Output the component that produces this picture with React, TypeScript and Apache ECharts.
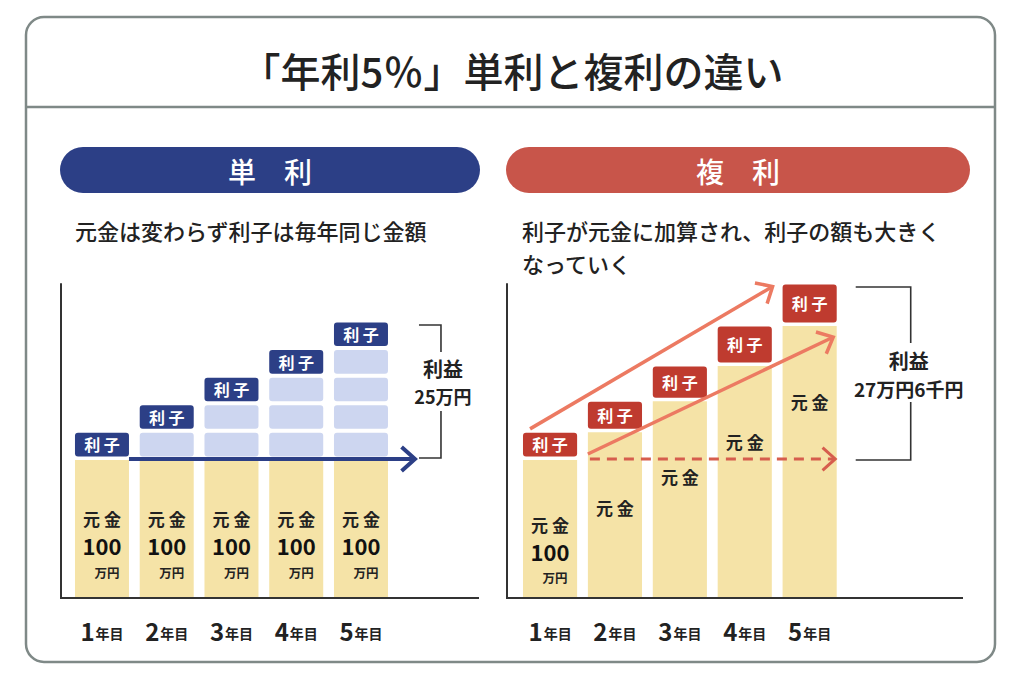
import React, { useEffect, useRef } from 'react';
import * as echarts from 'echarts';

// ---- data ----
const years = ['1年目', '2年目', '3年目', '4年目', '5年目'];
const simplePrincipal = [100, 100, 100, 100, 100];
const simpleInterest = [20, 20, 20, 20, 20]; // drawn interest slice added each year
const compoundPrincipal = [100, 120, 142.5, 168, 197];
const compoundInterest = [20, 22.5, 25.5, 29, 30.5];
const compoundShowAmount = [true, false, false, false, false];
const principalAmount = '100';
const simpleGain = '25万円';
const compoundGain = '27万円6千円';

// ---- styles ----
const FONT = "'Noto Sans CJK JP', 'Noto Sans', sans-serif";
const NAVY = '#2C3F86';
const LIGHT = '#CDD6F0';
const YELLOW = '#F5E3A7';
const RED = '#BF3B2F';
const PILL_RED = '#C8554A';
const SALMON = '#EC7A62';
const DASH = '#D65D4D';
const FRAME = '#7F8987';
const TXT = '#222';

const Y_MAX = 227.5;
const GRID_TOP = 284;
const GRID_H = 314;
const L_GRID = { left: 69.6, width: 323.75 };
const R_GRID = { left: 517.6, width: 324.5 };
const BAR_RATIO = 0.834;

function txt(text: string, x: number, y: number, size: number, weight: any, fill: string) {
  return {
    type: 'text',
    style: {
      text, x, y, fill,
      fontSize: size, fontWeight: weight, fontFamily: FONT, lineHeight: size,
      align: 'center', verticalAlign: 'middle',
    },
  };
}

function principalTexts(cx: number, top: number, offs: number[], withAmount: boolean) {
  const out: any[] = [txt('元 金', cx, top + offs[0], 17, 'bold', TXT)];
  if (withAmount) {
    out.push(txt(principalAmount, cx, top + offs[1], 22, 'bold', '#111'));
    out.push(txt('万円', cx + 5, top + offs[2], 12.5, 'bold', TXT));
  }
  return out;
}

function renderSimple(params: any, api: any) {
  const i = api.value(0);
  const base = api.coord([i, 0]);
  const bw = api.size([1, 0])[0] * BAR_RATIO;
  const x = base[0] - bw / 2;
  const p = simplePrincipal[i];
  const top = api.coord([i, p])[1];
  const children: any[] = [
    { type: 'rect', shape: { x, y: top, width: bw, height: base[1] - top }, style: { fill: YELLOW } },
    ...principalTexts(base[0], top, [58.5, 85.5, 112.5], true),
  ];
  let acc = p;
  for (let k = 0; k <= i; k++) {
    const v = simpleInterest[k];
    const t = api.coord([i, acc + v])[1];
    const b = api.coord([i, acc])[1];
    const isTop = k === i;
    children.push({
      type: 'rect',
      shape: { x, y: t + 0.5, width: bw, height: b - t - 4, r: 3 },
      style: { fill: isTop ? NAVY : LIGHT },
    });
    if (isTop) children.push(txt('利 子', base[0], (t + b - 3.5) / 2, 16, 'bold', '#fff'));
    acc += v;
  }
  return { type: 'group', children };
}

function renderCompound(params: any, api: any) {
  const i = api.value(0);
  const base = api.coord([i, 0]);
  const bw = api.size([1, 0])[0] * BAR_RATIO;
  const x = base[0] - bw / 2;
  const p = compoundPrincipal[i];
  const top = api.coord([i, p])[1];
  const t = api.coord([i, p + compoundInterest[i]])[1];
  const children: any[] = [
    { type: 'rect', shape: { x, y: top, width: bw, height: base[1] - top }, style: { fill: YELLOW } },
    ...principalTexts(base[0], top, compoundShowAmount[i] ? [64.5, 91.5, 118] : [75, 0, 0], compoundShowAmount[i]),
    { type: 'rect', shape: { x, y: t + 0.5, width: bw, height: top - t - 4, r: 3 }, style: { fill: RED } },
    txt('利 子', base[0], (t + top - 3.5) / 2, 16, 'bold', '#fff'),
  ];
  return { type: 'group', children };
}

function arrow(x1: number, y1: number, x2: number, y2: number, color: string, w: number, dashed: boolean, head = 17) {
  const a = Math.atan2(y2 - y1, x2 - x1);
  const ang = Math.PI / 4.3;
  return [
    {
      type: 'line', z: 50,
      shape: { x1, y1, x2: x2 - Math.cos(a) * 1.5, y2: y2 - Math.sin(a) * 1.5 },
      style: { stroke: color, lineWidth: w, lineDash: dashed ? [10, 7] : null, fill: null },
    },
    {
      type: 'polyline', z: 50,
      shape: {
        points: [
          [x2 - head * Math.cos(a - ang), y2 - head * Math.sin(a - ang)],
          [x2, y2],
          [x2 - head * Math.cos(a + ang), y2 - head * Math.sin(a + ang)],
        ],
      },
      style: { stroke: color, lineWidth: w, fill: null, lineJoin: 'miter' },
    },
  ];
}

function axisLabel() {
  return {
    margin: 20,
    interval: 0,
    formatter: (v: string) => `{n|${v.replace('年目', '')}}{u|年目}`,
    rich: {
      n: { fontSize: 24, fontWeight: 'bold', fontFamily: FONT, color: TXT },
      u: { fontSize: 14, fontWeight: 'bold', fontFamily: FONT, color: TXT, padding: [6, 0, 0, 1] },
    },
  };
}

export default function App() {
  const ref = useRef<HTMLDivElement>(null);
  useEffect(() => {
    const chart = echarts.init(ref.current!, null, { renderer: 'svg' });
    const yAxisBase = (grid: number, offset: number) => ({
      gridIndex: grid, type: 'value', min: 0, max: Y_MAX, offset,
      axisLine: { show: true, lineStyle: { color: '#333', width: 2 } },
      axisTick: { show: false }, axisLabel: { show: false }, splitLine: { show: false },
    });
    const xAxisBase = (grid: number) => ({
      gridIndex: grid, type: 'category', data: years,
      axisLine: { show: false }, axisTick: { show: false }, axisLabel: axisLabel(),
    });
    chart.setOption({
      animation: false,
      backgroundColor: '#fff',
      grid: [
        { left: L_GRID.left, width: L_GRID.width, top: GRID_TOP, height: GRID_H },
        { left: R_GRID.left, width: R_GRID.width, top: GRID_TOP, height: GRID_H },
      ],
      xAxis: [xAxisBase(0), xAxisBase(1)],
      yAxis: [yAxisBase(0, L_GRID.left - 61), yAxisBase(1, R_GRID.left - 507)],
      series: [
        {
          type: 'custom', xAxisIndex: 0, yAxisIndex: 0, coordinateSystem: 'cartesian2d', z: 2,
          data: years.map((_, i) => [i, simplePrincipal[i] + simpleInterest.slice(0, i + 1).reduce((s, v) => s + v, 0)]),
          encode: { x: 0, y: 1 }, renderItem: renderSimple, silent: true,
        },
        {
          type: 'custom', xAxisIndex: 1, yAxisIndex: 1, coordinateSystem: 'cartesian2d', z: 2,
          data: years.map((_, i) => [i, compoundPrincipal[i] + compoundInterest[i]]),
          encode: { x: 0, y: 1 }, renderItem: renderCompound, silent: true,
        },
      ],
    });

    const c = (g: number, i: number, v: number) => chart.convertToPixel({ gridIndex: g } as any, [i, v]) as number[];
    const halfL = (L_GRID.width / 5) * BAR_RATIO / 2;
    const halfR = (R_GRID.width / 5) * BAR_RATIO / 2;
    const base0 = c(0, 0, 0)[1];

    // left anchors
    const l1 = c(0, 0, simplePrincipal[0]);
    const l5 = c(0, 4, simplePrincipal[4]);
    const l5top = c(0, 4, simplePrincipal[4] + simpleInterest.reduce((s, v) => s + v, 0));
    // right anchors
    const r1top = c(1, 0, compoundPrincipal[0] + compoundInterest[0]);
    const r5top = c(1, 4, compoundPrincipal[4] + compoundInterest[4]);
    const r2base = c(1, 1, compoundPrincipal[0]);
    const r5base = c(1, 4, compoundPrincipal[0]);
    const r5prin = c(1, 4, compoundPrincipal[4]);

    const lbx = l5[0] + halfL;
    const rbx = r5base[0] + halfR;

    const bracket = (xl: number, xr: number, yt: number, yb: number, g1: number, g2: number) => [
      { type: 'polyline', shape: { points: [[xl, yt], [xr, yt], [xr, g1]] }, style: { stroke: '#333', lineWidth: 1.6, fill: null } },
      { type: 'polyline', shape: { points: [[xr, g2], [xr, yb], [xl, yb]] }, style: { stroke: '#333', lineWidth: 1.6, fill: null } },
    ];

    const g: any[] = [
      { type: 'rect', shape: { x: 26, y: 17, width: 969, height: 645, r: 18 }, style: { fill: null, stroke: FRAME, lineWidth: 2.5 } },
      { type: 'line', shape: { x1: 26, y1: 107, x2: 995, y2: 107 }, style: { stroke: FRAME, lineWidth: 2.5 } },
      txt('「年利5％」単利と複利の違い', 512, 70, 40, 500, TXT),
      { type: 'rect', shape: { x: 60, y: 147, width: 420, height: 46, r: 23 }, style: { fill: NAVY } },
      { type: 'rect', shape: { x: 506, y: 147, width: 464, height: 46, r: 23 }, style: { fill: PILL_RED } },
      txt('単　利', 270, 171, 28, 500, '#fff'),
      txt('複　利', 738, 171, 28, 500, '#fff'),
      { type: 'text', style: { text: '元金は変わらず利子は毎年同じ金額', x: 75, y: 230, fill: TXT, fontSize: 22, fontWeight: 500, fontFamily: FONT, align: 'left', verticalAlign: 'middle' } },
      { type: 'text', style: { text: '利子が元金に加算され、利子の額も大きく', x: 522, y: 230, fill: TXT, fontSize: 22, fontWeight: 500, fontFamily: FONT, align: 'left', verticalAlign: 'middle' } },
      { type: 'text', style: { text: 'なっていく', x: 522, y: 263, fill: TXT, fontSize: 22, fontWeight: 500, fontFamily: FONT, align: 'left', verticalAlign: 'middle' } },
      // baselines
      { type: 'line', shape: { x1: 60, y1: base0, x2: 479, y2: base0 }, style: { stroke: '#333', lineWidth: 2 } },
      { type: 'line', shape: { x1: 506, y1: base0, x2: 963, y2: base0 }, style: { stroke: '#333', lineWidth: 2 } },
      // left arrow
      ...arrow(l1[0] + halfL, l1[1] - 1, lbx + 27, l1[1] - 1, NAVY, 4, false, 18),
      // left bracket
      ...bracket(lbx + 31, lbx + 53, l5top[1] + 3, l5[1] - 2, 352, 411),
      txt('利益', lbx + 55, 368, 20, 'bold', TXT),
      txt(simpleGain, lbx + 55, 396, 18, 'bold', TXT),
      // right arrows
      ...arrow(r1top[0] - 20, r1top[1] - 3.5, r5top[0] - halfR - 10, r5top[1] + 2.5, SALMON, 3.5, false, 18),
      ...arrow(r2base[0] - halfR, r2base[1] - 6, rbx - 3.5, r5prin[1] + 11, SALMON, 3.5, false, 18),
      ...arrow(r2base[0] - halfR + 2, r2base[1] - 1, rbx - 1.5, r5base[1] - 1, DASH, 3, true, 17),
      // right bracket
      ...bracket(rbx + 19, rbx + 74, r5top[1] + 3, r5base[1], 343, 402),
      txt('利益', rbx + 72, 360, 20, 'bold', TXT),
      txt(compoundGain, rbx + 72, 388, 19, 'bold', TXT),
    ];
    chart.setOption({ graphic: { elements: g.map((e) => ({ z: 40, ...e, silent: true })) } });
    return () => chart.dispose();
  }, []);
  return <div ref={ref} style={{ position: 'fixed', left: 0, top: 0, width: 1024, height: 679 }} />;
}
